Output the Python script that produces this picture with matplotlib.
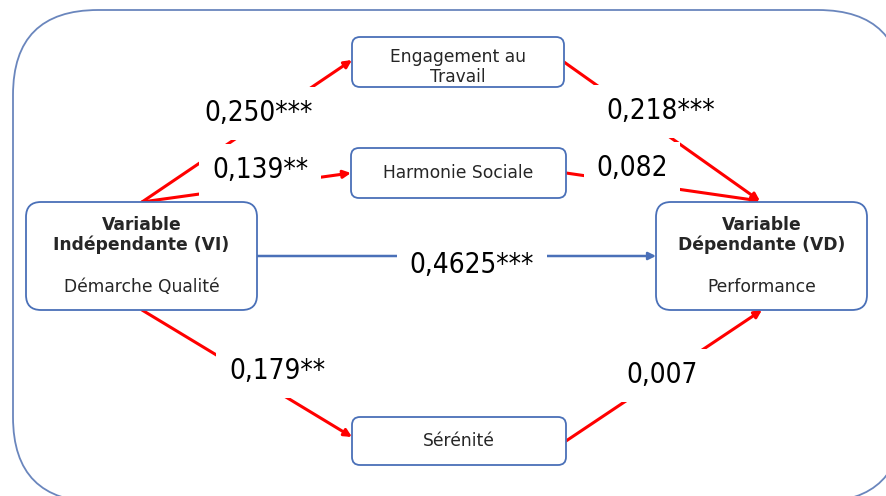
import matplotlib
matplotlib.use('Agg')
import matplotlib.pyplot as plt
from matplotlib.patches import FancyBboxPatch

# nodes of the path model
node_names = ['VI', 'ENG', 'HAR', 'SER', 'VD']
node_lines = [
    [('Variable', True), ('Indépendante (VI)', True), ('', False), ('Démarche Qualité', False)],
    [('Engagement au', False), ('Travail', False)],
    [('Harmonie Sociale', False)],
    [('Sérénité', False)],
    [('Variable', True), ('Dépendante (VD)', True), ('', False), ('Performance', False)],
]

# paths: (from, to, coefficient)
path_from = ['VI', 'VI', 'VI', 'ENG', 'HAR', 'SER', 'VI']
path_to = ['ENG', 'HAR', 'SER', 'VD', 'VD', 'VD', 'VD']
path_coef = ['0,250***', '0,139**', '0,179**', '0,218***', '0,082', '0,007', '0,4625***']

# layout (pixels, y downwards)
box = {
    'VI': (26, 202, 231, 108, 15),
    'ENG': (352, 37, 212, 50, 8),
    'HAR': (351, 148, 215, 50, 8),
    'SER': (352, 417, 214, 48, 8),
    'VD': (656, 202, 211, 108, 15),
}
anchor = {
    ('VI', 'ENG'): ((142, 202), (352, 60)),
    ('VI', 'HAR'): ((142, 202), (351, 173)),
    ('VI', 'SER'): ((142, 310), (352, 437)),
    ('ENG', 'VD'): ((564, 62), (760, 201)),
    ('HAR', 'VD'): ((566, 173), (760, 201)),
    ('SER', 'VD'): ((566, 441), (762, 310)),
    ('VI', 'VD'): ((257, 256), (656, 256)),
}
label_pos = {
    ('VI', 'ENG'): (259, 113),
    ('VI', 'HAR'): (260, 170),
    ('VI', 'SER'): (277, 371),
    ('ENG', 'VD'): (661, 111),
    ('HAR', 'VD'): (632, 168),
    ('SER', 'VD'): (662, 375),
    ('VI', 'VD'): (472, 265),
}

edge_blue = '#4a70b8'

fig = plt.figure(figsize=(8.86, 4.96), dpi=100)
ax = fig.add_axes([0, 0, 1, 1])
ax.set_xlim(0, 886)
ax.set_ylim(496, 0)
ax.axis('off')

# outer frame
ax.add_patch(FancyBboxPatch((13, 10), 890, 492,
                            boxstyle='round,pad=0,rounding_size=85',
                            fc='white', ec='#6a86bd', lw=1.3, zorder=0))

# node boxes
for name, lines in zip(node_names, node_lines):
    x, y, w, h, r = box[name]
    ax.add_patch(FancyBboxPatch((x, y), w, h,
                                boxstyle='round,pad=0,rounding_size=%d' % r,
                                fc='white', ec=edge_blue, lw=1.3, zorder=3))
    cx = x + w / 2
    step = 20
    if len(lines) == 1:
        y0 = y + h / 2
    elif len(lines) == 2:
        y0 = y + h / 2 - 5
    else:
        y0 = y + 23
    for k, (txt, bold) in enumerate(lines):
        if not txt:
            continue
        yy = y0 + k * step
        if len(lines) == 4 and k == 3:
            yy = y0 + 62
        ax.text(cx, yy, txt, ha='center', va='center', fontsize=12.3,
                family='DejaVu Sans', color='#262626',
                fontweight='bold' if bold else 'normal', zorder=4)

# arrows and coefficients
for a, b, c in zip(path_from, path_to, path_coef):
    (x1, y1), (x2, y2) = anchor[(a, b)]
    col = edge_blue if (a, b) == ('VI', 'VD') else '#ff0000'
    lw = 1.8 if (a, b) == ('VI', 'VD') else 2.2
    ax.annotate('', xy=(x2, y2), xytext=(x1, y1),
                arrowprops=dict(arrowstyle='-|>', color=col, lw=lw,
                                mutation_scale=11, shrinkA=0, shrinkB=0),
                zorder=2)
    lx, ly = label_pos[(a, b)]
    ax.text(lx, ly, c, ha='center', va='center', fontsize=20,
            family='DejaVu Sans', fontstretch='condensed',
            color='black', zorder=2.5,
            bbox=dict(boxstyle='square,pad=0.45', fc='white', ec='none'))

fig.savefig('out.png', dpi=100)
